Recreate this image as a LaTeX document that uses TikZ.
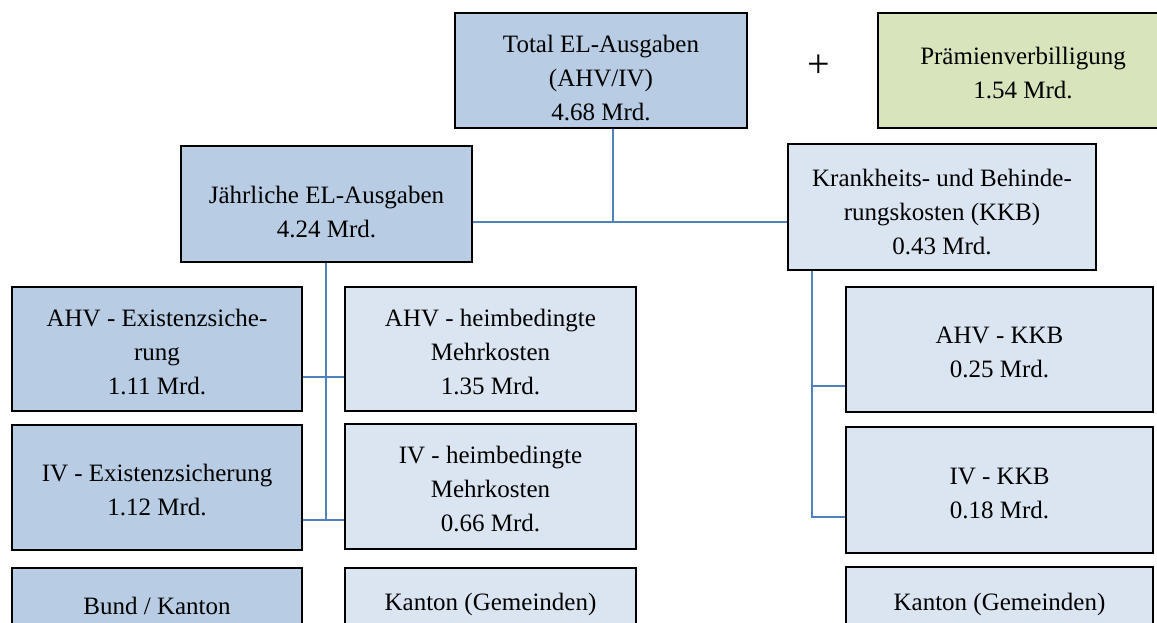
\documentclass[tikz,border=0pt]{standalone}
\usepackage{fontspec}
\setmainfont{Liberation Serif}
\definecolor{darkbox}{HTML}{B8CCE4}
\definecolor{lightbox}{HTML}{DBE5F1}
\definecolor{greenbox}{HTML}{D7E4BC}
\definecolor{conn}{HTML}{4F81BD}
\begin{document}
\begin{tikzpicture}[x=1pt,y=-1pt,
  box/.style={draw=black,line width=1.8pt,inner sep=0pt},
  dbox/.style={box,fill=darkbox},
  lbox/.style={box,fill=lightbox},
  gbox/.style={box,fill=greenbox},
  txt/.style={align=center,inner sep=0pt,font=\fontsize{25}{34}\selectfont},
  link/.style={draw=conn,line width=1.8pt}]
\useasboundingbox (0,0) rectangle (1157,623);
\clip (0,0) rectangle (1157,623);
% boxes
\node[dbox,minimum width=292pt,minimum height=115pt] (total) at (601,70.5) {};
\node[gbox,minimum width=290pt,minimum height=115pt] (praem) at (1023,70.5) {};
\node[dbox,minimum width=291pt,minimum height=116pt] (jaehr) at (326.5,204) {};
\node[lbox,minimum width=308pt,minimum height=126pt] (kkb) at (942,207) {};
\node[dbox,minimum width=290pt,minimum height=124pt] (ahvex) at (157,349) {};
\node[lbox,minimum width=291pt,minimum height=124pt] (ahvheim) at (490.5,349) {};
\node[dbox,minimum width=290pt,minimum height=125pt] (ivex) at (157,487.5) {};
\node[lbox,minimum width=291pt,minimum height=125pt] (ivheim) at (490.5,486.5) {};
\node[lbox,minimum width=307pt,minimum height=125pt] (ahvkkb) at (999.5,349.5) {};
\node[lbox,minimum width=307pt,minimum height=126pt] (ivkkb) at (999.5,490) {};
\node[dbox,minimum width=290pt,minimum height=80pt] (bund) at (157,608) {};
\node[lbox,minimum width=291pt,minimum height=80pt] (kantL) at (490.5,608) {};
\node[lbox,minimum width=307pt,minimum height=82pt] (kantR) at (999.5,608) {};
% texts
\node[txt] (totalt) at ([yshift=-8pt]total.center) {Total EL-Ausgaben\\(AHV/IV)\\4.68 Mrd.};
\node[font=\fontsize{40}{40}\selectfont,inner sep=0pt] (plus) at (819,66) {+};
\node[txt] (praemt) at ([yshift=-3pt]praem.center) {Prämienverbilligung\\1.54 Mrd.};
\node[txt] (jaehrt) at ([yshift=-8pt]jaehr.center) {Jährliche EL-Ausgaben\\4.24 Mrd.};
\node[txt] (kkbt) at ([yshift=-5pt]kkb.center) {Krankheits- und Behinde-\\rungskosten (KKB)\\0.43 Mrd.};
\node[txt] (ahvext) at ([yshift=-3pt]ahvex.center) {AHV - Existenzsiche-\\rung\\1.11 Mrd.};
\node[txt] (ahvheimt) at ([yshift=-3pt]ahvheim.center) {AHV - heimbedingte\\Mehrkosten\\1.35 Mrd.};
\node[txt] (ivext) at ([yshift=-3pt]ivex.center) {IV - Existenzsicherung\\1.12 Mrd.};
\node[txt] (ivheimt) at ([yshift=-3pt]ivheim.center) {IV - heimbedingte\\Mehrkosten\\0.66 Mrd.};
\node[txt] (ahvkkbt) at ([yshift=-3pt]ahvkkb.center) {AHV - KKB\\0.25 Mrd.};
\node[txt] (ivkkbt) at ([yshift=-3pt]ivkkb.center) {IV - KKB\\0.18 Mrd.};
\node[txt] (bundt) at (157,606) {Bund / Kanton};
\node[txt] (kantLt) at (490.5,604) {Kanton (Gemeinden)};
\node[txt] (kantRt) at (999.5,604) {Kanton (Gemeinden)};
% connectors
\coordinate (j1) at (613,222);
\draw[link] (total.south -| j1) -- (j1);
\draw[link] (jaehr.east |- j1) -- (kkb.west |- j1);
\coordinate (l1) at (326,377);
\coordinate (l2) at (326,520);
\draw[link] (jaehr.south -| l1) -- (l2);
\draw[link] (ahvex.east |- l1) -- (ahvheim.west |- l1);
\draw[link] (ivex.east |- l2) -- (ivheim.west |- l2);
\coordinate (r1) at (812,386);
\coordinate (r2) at (812,517);
\draw[link] (kkb.south -| r1) -- (r2) -- (ivkkb.west |- r2);
\draw[link] (r1) -- (ahvkkb.west |- r1);
\end{tikzpicture}
\end{document}
